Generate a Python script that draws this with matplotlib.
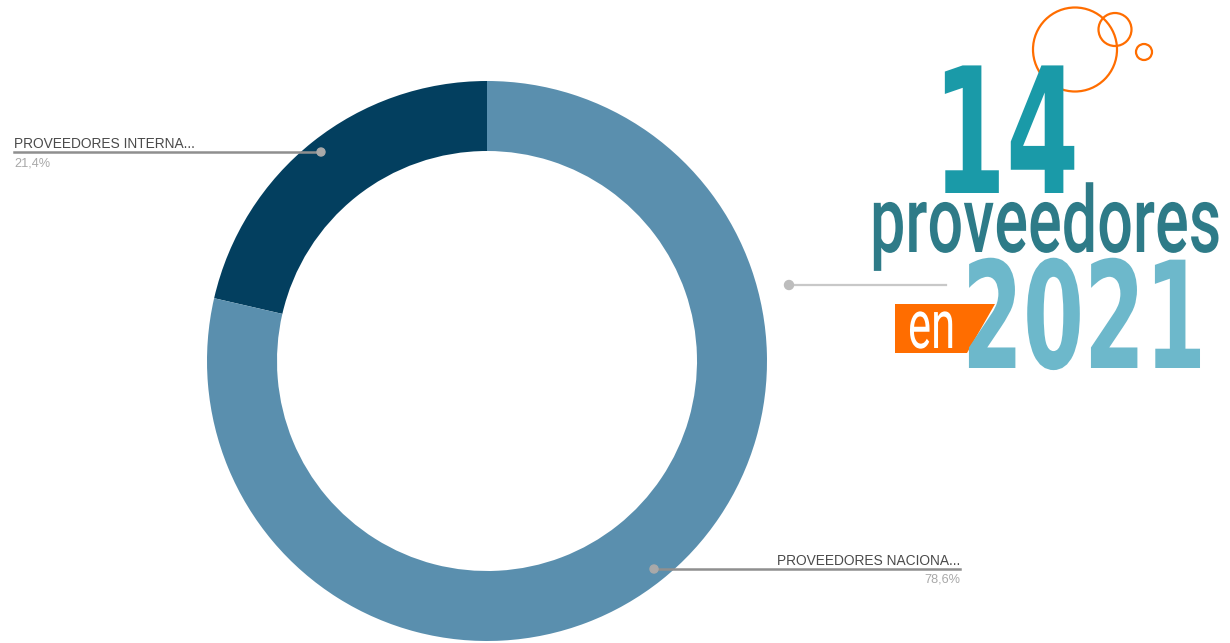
import matplotlib
matplotlib.use("Agg")
import matplotlib.pyplot as plt
from matplotlib.patches import Circle, Polygon
from matplotlib.patheffects import AbstractPathEffect
from matplotlib.transforms import Affine2D

# ---- data ----
categories = ["PROVEEDORES INTERNA...", "PROVEEDORES NACIONA..."]
shares = [21.4, 78.6]
share_labels = ["21,4%", "78,6%"]
colors = ["#033f5f", "#5a8fae"]
headline_number = "14"
headline_word = "proveedores"
headline_prefix = "en"
headline_year = "2021"

W, H = 1230, 643


class Squeeze(AbstractPathEffect):
    """Condense glyphs horizontally around the text anchor."""
    def __init__(self, sx):
        super().__init__()
        self.sx = sx
        self.text = None

    def draw_path(self, renderer, gc, tpath, affine, rgbFace=None):
        x0 = self.text.get_transform().transform(self.text.get_position())[0]
        a = affine + Affine2D().translate(-x0, 0).scale(self.sx, 1).translate(x0, 0)
        renderer.draw_path(gc, tpath, a, rgbFace)


def ctext(ax, x, y, s, sx, **kw):
    pe = Squeeze(sx)
    t = ax.text(x, y, s, path_effects=[pe], **kw)
    pe.text = t
    return t


fig = plt.figure(figsize=(W / 100, H / 100), dpi=100)
ax = fig.add_axes([0, 0, 1, 1])

def py(y):
    return H - y

# donut
ax.pie(shares, colors=colors, startangle=90, counterclock=True,
       center=(487, py(361)), radius=280,
       wedgeprops=dict(width=70, linewidth=0), frame=True)
ax.set_xlim(0, W)
ax.set_ylim(0, H)
ax.set_aspect("equal")
ax.axis("off")

line_col = "#8f8f8f"
lab_font = "Liberation Sans"
# label: internacionales
ax.plot([14, 321], [py(152), py(152)], color=line_col, lw=1.8, zorder=3)
ax.add_patch(Circle((321, py(152)), 4, color="#a9a9a9", zorder=4))
ax.text(14, py(148), categories[0], fontsize=9.9, color="#4a4a4a", ha="left",
        va="baseline", family=lab_font)
ax.text(14, py(166), share_labels[0], fontsize=9.2, color="#a8a8a8", ha="left",
        va="baseline", family=lab_font)

# label: nacionales
ax.plot([654, 960], [py(569), py(569)], color=line_col, lw=1.8, zorder=3)
ax.add_patch(Circle((654, py(569)), 4, color="#a9a9a9", zorder=4))
ax.text(960, py(565), categories[1], fontsize=9.9, color="#4a4a4a", ha="right",
        va="baseline", family=lab_font)
ax.text(960, py(583), share_labels[1], fontsize=9.2, color="#a8a8a8", ha="right",
        va="baseline", family=lab_font)

# extra connector line on right
ax.plot([789, 946], [py(285), py(285)], color="#c8c8c8", lw=1.6, zorder=3)
ax.add_patch(Circle((789, py(285)), 4.5, color="#bdbdbd", zorder=4))

# ---- infographic ----
orange = "#ff6d00"
for (cx, cy, r) in [(1075, 49.5, 42), (1115, 29.5, 16.5), (1144, 52, 8)]:
    ax.add_patch(Circle((cx, py(cy)), r, fill=False, ec=orange, lw=1.6, zorder=2))

ctext(ax, 933, py(193), headline_number, 0.60, fontsize=126, color="#1a9aa8",
      fontweight="bold", family="DejaVu Sans", ha="left", va="baseline", zorder=5)

ctext(ax, 870, py(252), headline_word, 0.675, fontsize=67, color="#2e7b88",
      fontweight="medium", family="Roboto", ha="left", va="baseline", zorder=5)

ax.add_patch(Polygon([(895, py(304)), (995, py(304)), (967, py(353)), (895, py(353))],
                     closed=True, color=orange, lw=0, zorder=5))
ctext(ax, 908, py(348), headline_prefix, 0.64, fontsize=49, color="white",
      fontweight="normal", family="Roboto", ha="left", va="baseline", zorder=6)

ctext(ax, 962, py(368), headline_year, 0.59, fontsize=107, color="#6db8cb",
      fontweight="bold", family="DejaVu Sans", ha="left", va="baseline", zorder=5)

fig.savefig("out.png", dpi=100, facecolor="white")
